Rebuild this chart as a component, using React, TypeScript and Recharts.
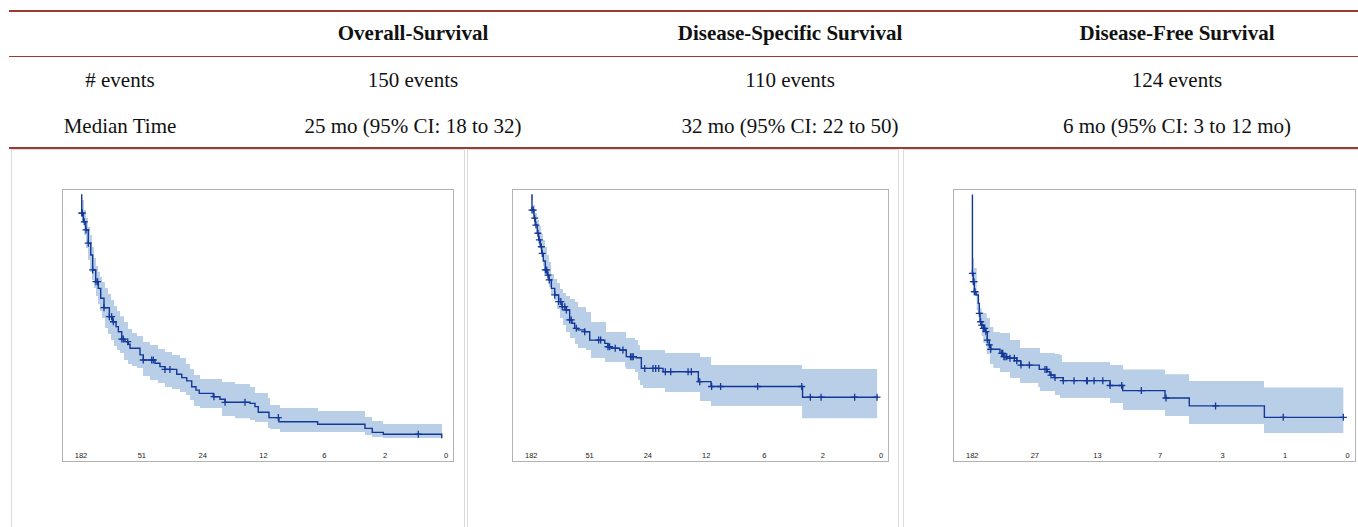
import { ComposedChart, Area, Line, Scatter, XAxis, YAxis } from "recharts";

// x positions of the number-at-risk labels (months)
const TICKS = [0, 50, 100, 150, 200, 250, 300];

const rowLabels = ["# events", "Median Time"];
const titles = ["Overall-Survival", "Disease-Specific Survival", "Disease-Free Survival"];
const events = ["150 events", "110 events", "124 events"];
const medians = ["25 mo (95% CI: 18 to 32)", "32 mo (95% CI: 22 to 50)", "6 mo (95% CI: 3 to 12 mo)"];

// Overall survival
const osAtRisk = ["182", "51", "24", "12", "6", "2", "0"];
const osTime = [0, 0.6, 1.9, 3.9, 6.0, 8.0, 9.6, 12.1, 14.2, 16.2, 18.9, 23.3, 26.1, 28.8, 30.7, 33.5, 36.2, 38.9, 40.3, 48.5, 51.2, 60.8, 64.9, 69.0, 78.7, 82.8, 86.9, 91.0, 94.5, 97.2, 108.7, 114.2, 118.4, 138.9, 143.0, 145.7, 154.5, 162.7, 194.5, 233.4, 239.4, 248.5, 296.5];
const osSurv = [1, 0.929, 0.895, 0.863, 0.811, 0.765, 0.706, 0.66, 0.634, 0.595, 0.558, 0.523, 0.503, 0.484, 0.464, 0.435, 0.425, 0.415, 0.399, 0.373, 0.353, 0.34, 0.327, 0.316, 0.297, 0.284, 0.271, 0.248, 0.235, 0.222, 0.209, 0.199, 0.187, 0.183, 0.17, 0.148, 0.127, 0.111, 0.101, 0.085, 0.069, 0.062, 0.046];
const osCensor = [0.6, 1.1, 2.7, 4.1, 6.0, 9.6, 12.3, 13.7, 18.9, 23.3, 25.2, 26.6, 33.5, 34.8, 38.4, 51.2, 58.1, 59.4, 69.0, 73.1, 109.3, 118.4, 134.8, 162.2, 277.2];
const osBandTime = [0, 0.8, 2.5, 4.1, 5.8, 7.4, 9.0, 10.7, 12.3, 14.0, 15.6, 17.3, 19.7, 22.2, 24.7, 27.1, 29.6, 32.1, 35.3, 38.6, 41.9, 46.0, 51.0, 56.7, 63.3, 69.0, 74.8, 81.4, 86.3, 89.6, 92.9, 97.8, 115.9, 126.6, 138.9, 143.0, 153.7, 155.3, 163.6, 194.8, 233.4, 239.2, 248.2, 296.7];
const osBandHigh = [1.0, 0.98, 0.941, 0.91, 0.875, 0.843, 0.796, 0.753, 0.722, 0.698, 0.678, 0.659, 0.635, 0.612, 0.588, 0.565, 0.545, 0.525, 0.502, 0.475, 0.459, 0.447, 0.424, 0.412, 0.396, 0.384, 0.373, 0.361, 0.337, 0.318, 0.294, 0.278, 0.267, 0.259, 0.247, 0.224, 0.204, 0.176, 0.165, 0.153, 0.129, 0.114, 0.102, 0.102];
const osBandLow = [0.961, 0.894, 0.843, 0.792, 0.745, 0.698, 0.667, 0.635, 0.604, 0.573, 0.545, 0.518, 0.478, 0.455, 0.431, 0.408, 0.392, 0.38, 0.353, 0.337, 0.329, 0.322, 0.29, 0.275, 0.263, 0.247, 0.239, 0.227, 0.216, 0.196, 0.173, 0.165, 0.133, 0.125, 0.118, 0.11, 0.086, 0.082, 0.071, 0.071, 0.059, 0.051, 0.047, 0.047];

// Disease-specific survival
const dssAtRisk = ["182", "51", "24", "12", "6", "2", "0"];
const dssTime = [0, 0.6, 2.3, 3.4, 5.1, 6.3, 7.7, 8.9, 10.3, 12.0, 13.7, 15.2, 17.2, 20.1, 23.5, 26.3, 30.0, 32.9, 34.9, 37.2, 40.1, 45.8, 50.1, 63.0, 65.8, 68.6, 75.8, 81.5, 90.1, 94.4, 113.0, 143.3, 154.2, 232.7, 297.2];
const dssSurv = [1, 0.941, 0.909, 0.882, 0.85, 0.824, 0.797, 0.771, 0.741, 0.706, 0.686, 0.667, 0.634, 0.608, 0.582, 0.562, 0.549, 0.51, 0.497, 0.477, 0.471, 0.464, 0.431, 0.418, 0.405, 0.399, 0.392, 0.366, 0.362, 0.32, 0.307, 0.268, 0.249, 0.207, 0.207];
const dssCensor = [0.6, 1.7, 2.9, 4.0, 5.7, 6.9, 8.6, 9.4, 12.0, 13.2, 14.3, 15.4, 20.1, 23.5, 25.3, 26.6, 28.7, 30.1, 32.9, 34.3, 38.6, 45.8, 57.8, 59.5, 65.8, 67.2, 72.0, 78.6, 85.2, 86.4, 87.5, 97.3, 104.4, 106.7, 109.3, 115.0, 119.6, 134.5, 137.3, 144.5, 154.7, 162.4, 194.2, 232.0, 239.4, 248.6, 277.4, 296.6];
const dssBandTime = [0, 1.5, 3.2, 4.9, 6.6, 8.3, 10.0, 11.7, 13.5, 15.2, 16.9, 19.5, 22.1, 24.6, 27.2, 29.8, 33.2, 37.5, 40.1, 46.9, 51.2, 63.2, 64.1, 80.4, 81.3, 89.0, 91.6, 93.3, 95.8, 114.7, 144.7, 154.2, 232.3, 296.7];
const dssBandHigh = [1.0, 0.961, 0.929, 0.902, 0.878, 0.847, 0.824, 0.796, 0.765, 0.737, 0.69, 0.671, 0.655, 0.631, 0.616, 0.604, 0.592, 0.58, 0.561, 0.541, 0.502, 0.502, 0.463, 0.463, 0.439, 0.431, 0.412, 0.392, 0.392, 0.38, 0.365, 0.333, 0.318, 0.318];
const dssBandLow = [0.98, 0.922, 0.878, 0.843, 0.804, 0.769, 0.722, 0.69, 0.667, 0.639, 0.612, 0.588, 0.553, 0.518, 0.49, 0.463, 0.439, 0.416, 0.4, 0.392, 0.361, 0.345, 0.345, 0.325, 0.318, 0.306, 0.275, 0.255, 0.243, 0.227, 0.192, 0.173, 0.125, 0.125];

// Disease-free survival
const dfsAtRisk = ["182", "27", "13", "7", "3", "1", "0"];
const dfsTime = [0, 0.1, 0.8, 1.6, 3.0, 4.8, 5.6, 6.2, 7.5, 8.8, 10.7, 12.0, 13.6, 14.7, 22.1, 24.8, 28.0, 35.5, 38.7, 53.5, 59.9, 62.1, 65.3, 72.7, 110.1, 120.2, 154.0, 173.4, 233.4, 296.5];
const dfsSurv = [1, 0.693, 0.66, 0.621, 0.608, 0.575, 0.536, 0.503, 0.49, 0.477, 0.464, 0.431, 0.412, 0.395, 0.379, 0.366, 0.36, 0.35, 0.333, 0.316, 0.307, 0.294, 0.284, 0.272, 0.253, 0.233, 0.204, 0.173, 0.128, 0.128];
const dfsCensor = [0.1, 0.8, 1.4, 1.6, 2.2, 5.6, 6.7, 7.5, 8.8, 9.9, 10.9, 12.0, 13.6, 14.7, 23.5, 24.3, 25.3, 26.1, 27.5, 30.1, 33.6, 35.5, 38.9, 45.6, 58.1, 59.5, 62.9, 66.1, 72.7, 81.3, 91.4, 91.9, 97.3, 104.3, 110.1, 119.4, 135.1, 154.8, 194.4, 248.5, 296.5];
const dfsBandTime = [0.2, 1.4, 3.5, 5.6, 7.5, 8.8, 11.5, 14.1, 16.8, 22.1, 30.1, 38.1, 52.7, 54.1, 66.1, 70.1, 71.7, 110.1, 120.4, 154.0, 173.2, 233.1, 296.5];
const dfsBandHigh = [0.753, 0.714, 0.62, 0.557, 0.541, 0.537, 0.518, 0.482, 0.463, 0.459, 0.431, 0.4, 0.4, 0.38, 0.376, 0.373, 0.345, 0.333, 0.316, 0.297, 0.271, 0.245, 0.245];
const dfsBandLow = [0.667, 0.608, 0.549, 0.502, 0.447, 0.42, 0.376, 0.337, 0.322, 0.306, 0.282, 0.263, 0.247, 0.231, 0.216, 0.204, 0.204, 0.184, 0.157, 0.133, 0.102, 0.067, 0.067];

const RED = "#9d3a33";
const LINE = "#143897";
const BAND = "#b9cee7";
const SERIF = "'Liberation Serif', 'Times New Roman', serif";

type KM = {
  atRisk: string[];
  time: number[];
  surv: number[];
  censor: number[];
  bandTime: number[];
  bandLow: number[];
  bandHigh: number[];
};

const panels: (KM & { left: number; width: number; ml: number; mr: number })[] = [
  { atRisk: osAtRisk, time: osTime, surv: osSurv, censor: osCensor, bandTime: osBandTime, bandLow: osBandLow, bandHigh: osBandHigh, left: 62, width: 392, ml: 19, mr: 8 },
  { atRisk: dssAtRisk, time: dssTime, surv: dssSurv, censor: dssCensor, bandTime: dssBandTime, bandLow: dssBandLow, bandHigh: dssBandHigh, left: 512, width: 377, ml: 19.3, mr: 8 },
  { atRisk: dfsAtRisk, time: dfsTime, surv: dfsSurv, censor: dfsCensor, bandTime: dfsBandTime, bandLow: dfsBandLow, bandHigh: dfsBandHigh, left: 953, width: 403, ml: 19.3, mr: 8.3 },
];

function levelAt(time: number[], surv: number[], t: number) {
  let s = surv[0];
  for (let i = 0; i < time.length; i++) if (time[i] <= t) s = surv[i];
  return s;
}

const Cross = (p: any) => (
  <path
    d={`M${p.cx - 3.5},${p.cy}h7M${p.cx},${p.cy - 3.5}v7`}
    stroke={LINE}
    strokeWidth={1.3}
    fill="none"
  />
);

function KMPlot({ p }: { p: (typeof panels)[number] }) {
  const curve = p.time.map((t, i) => ({ t, s: p.surv[i] }));
  const band = p.bandTime.map((t, i) => ({ t, ci: [p.bandLow[i], p.bandHigh[i]] }));
  const marks = p.censor.map((t) => ({ t, s: levelAt(p.time, p.surv, t) }));
  return (
    <div style={{ position: "absolute", left: p.left, top: 189, width: p.width, height: 273 }}>
      <div
        style={{
          position: "absolute",
          inset: 0,
          border: "1px solid #b3b3b3",
          boxSizing: "border-box",
        }}
      />
      <ComposedChart
        width={p.width}
        height={273}
        margin={{ top: 6, right: p.mr, left: p.ml, bottom: 0 }}
      >
        <XAxis
          dataKey="t"
          type="number"
          domain={[0, 300]}
          ticks={TICKS}
          interval={0}
          axisLine={false}
          tickLine={false}
          tickSize={0}
          tickMargin={3}
          height={12}
          tick={{ fontSize: 7.5, fill: "#222", fontFamily: "'Liberation Sans', Arial, sans-serif" }}
          tickFormatter={(v: number) => p.atRisk[TICKS.indexOf(v)] ?? ""}
        />
        <YAxis type="number" domain={[0, 1]} hide />
        <Area
          data={band}
          dataKey="ci"
          type="stepAfter"
          fill={BAND}
          fillOpacity={1}
          stroke="none"
          isAnimationActive={false}
        />
        <Line
          data={curve}
          dataKey="s"
          type="stepAfter"
          stroke={LINE}
          strokeWidth={1.4}
          dot={false}
          isAnimationActive={false}
        />
        <Scatter data={marks} dataKey="s" shape={Cross} isAnimationActive={false} />
      </ComposedChart>
    </div>
  );
}

const colCenters = [413, 790, 1177];

function Cell({ x, top, text, bold }: { x: number; top: number; text: string; bold?: boolean }) {
  return (
    <div
      style={{
        position: "absolute",
        left: x - 200,
        width: 400,
        top,
        textAlign: "center",
        fontFamily: SERIF,
        fontSize: 21,
        lineHeight: "24px",
        fontWeight: bold ? 700 : 400,
        color: "#111",
        whiteSpace: "nowrap",
      }}
    >
      {text}
    </div>
  );
}

export default function App() {
  return (
    <div
      style={{
        position: "absolute",
        left: 0,
        top: 0,
        width: 1358,
        height: 527,
        overflow: "hidden",
        background: "#fff",
      }}
    >
      <div style={{ position: "absolute", left: 9, right: 0, top: 10, height: 2, background: RED }} />
      <div style={{ position: "absolute", left: 9, right: 0, top: 56, height: 1, background: RED }} />
      <div style={{ position: "absolute", left: 9, right: 0, top: 147, height: 2, background: RED }} />

      {titles.map((t, i) => (
        <Cell key={t} x={colCenters[i]} top={21} text={t} bold />
      ))}
      <Cell x={120} top={68} text={rowLabels[0]} />
      <Cell x={120} top={114} text={rowLabels[1]} />
      {events.map((t, i) => (
        <Cell key={t} x={colCenters[i]} top={68} text={t} />
      ))}
      {medians.map((t, i) => (
        <Cell key={t} x={colCenters[i]} top={114} text={t} />
      ))}

      <div style={{ position: "absolute", left: 11, top: 149, width: 452, height: 400, border: "1px solid #dcdcdc" }} />
      <div style={{ position: "absolute", left: 467, top: 149, width: 430, height: 400, border: "1px solid #dcdcdc" }} />
      <div style={{ position: "absolute", left: 903, top: 149, width: 500, height: 400, border: "1px solid #dcdcdc" }} />

      {panels.map((p, i) => (
        <KMPlot key={i} p={p} />
      ))}
    </div>
  );
}
